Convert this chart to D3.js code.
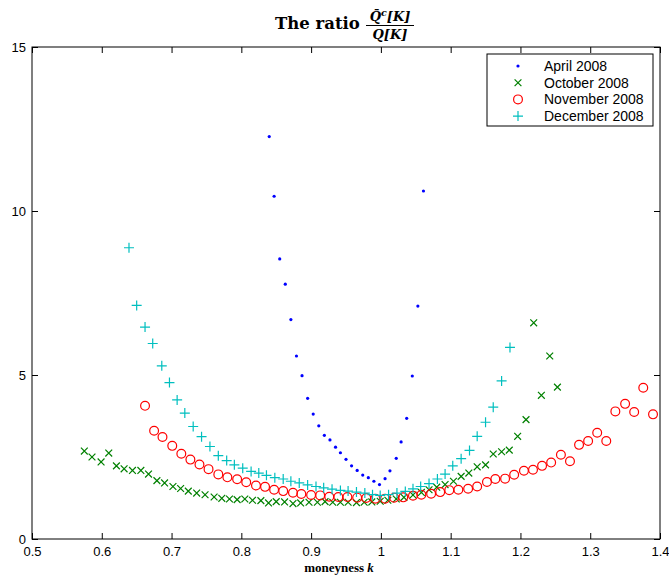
<!DOCTYPE html>
<html>
<head>
<meta charset="utf-8">
<script src="https://cdn.jsdelivr.net/npm/d3@7/dist/d3.min.js"></script>
<style>
  body { margin: 0; background: #fff; }
  text { fill: #000; }
</style>
</head>
<body>
<svg id="canvas" width="669" height="575"></svg>
<script>
// values: moneyness k and the ratio

const aprilK = [0.840, 0.847, 0.855, 0.863, 0.871, 0.879, 0.887, 0.895, 0.903, 0.911,
  0.919, 0.927, 0.935, 0.942, 0.950, 0.958, 0.966, 0.974, 0.982, 0.990,
  0.998, 1.006, 1.013, 1.022, 1.029, 1.037, 1.045, 1.053, 1.061]
const aprilV = [12.27, 10.45, 8.54, 7.77, 6.69, 5.58, 4.98, 4.29, 3.81, 3.45,
  3.16, 3.02, 2.80, 2.63, 2.43, 2.23, 2.09, 1.95, 1.87, 1.76,
  1.66, 1.84, 2.08, 2.46, 2.96, 3.68, 4.97, 7.10, 10.61]

const octK = [0.575, 0.586, 0.599, 0.610, 0.621, 0.632, 0.644, 0.656, 0.667, 0.679,
  0.690, 0.702, 0.713, 0.724, 0.736, 0.748, 0.761, 0.772, 0.783, 0.794,
  0.805, 0.816, 0.828, 0.839, 0.850, 0.862, 0.874, 0.885, 0.897, 0.909,
  0.920, 0.931, 0.942, 0.953, 0.965, 0.976, 0.987, 0.999, 1.010, 1.022,
  1.033, 1.046, 1.058, 1.069, 1.080, 1.092, 1.104, 1.115, 1.126, 1.138,
  1.150, 1.161, 1.173, 1.184, 1.196, 1.208, 1.219, 1.230, 1.242, 1.253]
const octV = [2.68, 2.50, 2.35, 2.62, 2.23, 2.14, 2.09, 2.09, 1.98, 1.78,
  1.71, 1.60, 1.54, 1.46, 1.40, 1.35, 1.28, 1.24, 1.22, 1.20,
  1.22, 1.18, 1.17, 1.10, 1.14, 1.13, 1.08, 1.10, 1.12, 1.12,
  1.14, 1.12, 1.12, 1.12, 1.11, 1.12, 1.13, 1.15, 1.18, 1.22,
  1.27, 1.34, 1.42, 1.50, 1.58, 1.66, 1.76, 1.91, 2.01, 2.20,
  2.26, 2.59, 2.66, 2.71, 3.13, 3.64, 6.59, 4.38, 5.58, 4.63]

const novK = [0.662, 0.675, 0.687, 0.701, 0.714, 0.727, 0.740, 0.753, 0.767, 0.780,
  0.794, 0.807, 0.821, 0.834, 0.847, 0.860, 0.874, 0.886, 0.900, 0.913,
  0.926, 0.939, 0.952, 0.966, 0.979, 0.992, 1.006, 1.019, 1.032, 1.046,
  1.058, 1.072, 1.085, 1.098, 1.111, 1.125, 1.138, 1.152, 1.164, 1.178,
  1.191, 1.205, 1.218, 1.231, 1.244, 1.258, 1.271, 1.284, 1.297, 1.310,
  1.323, 1.336, 1.350, 1.363, 1.376, 1.390]
const novV = [4.06, 3.30, 3.11, 2.84, 2.60, 2.42, 2.27, 2.13, 1.97, 1.88,
  1.82, 1.73, 1.63, 1.59, 1.50, 1.46, 1.41, 1.37, 1.34, 1.33,
  1.29, 1.28, 1.28, 1.26, 1.25, 1.23, 1.23, 1.26, 1.27, 1.32,
  1.35, 1.38, 1.43, 1.49, 1.50, 1.53, 1.60, 1.74, 1.83, 1.84,
  1.96, 2.08, 2.11, 2.23, 2.33, 2.57, 2.37, 2.87, 2.99, 3.24,
  2.99, 3.89, 4.12, 3.87, 4.61, 3.80]

const decK = [0.639, 0.650, 0.662, 0.673, 0.686, 0.697, 0.708, 0.719, 0.731, 0.743,
  0.755, 0.767, 0.779, 0.790, 0.802, 0.814, 0.825, 0.836, 0.848, 0.860,
  0.871, 0.883, 0.895, 0.907, 0.918, 0.930, 0.942, 0.953, 0.965, 0.977,
  0.988, 0.999, 1.011, 1.023, 1.035, 1.046, 1.057, 1.069, 1.081, 1.092,
  1.103, 1.115, 1.127, 1.138, 1.150, 1.161, 1.173, 1.185]
const decV = [8.88, 7.12, 6.46, 5.96, 5.28, 4.77, 4.24, 3.84, 3.43, 3.12,
  2.82, 2.54, 2.39, 2.26, 2.16, 2.06, 2.01, 1.94, 1.87, 1.83,
  1.76, 1.71, 1.65, 1.60, 1.56, 1.52, 1.48, 1.46, 1.43, 1.40,
  1.35, 1.33, 1.35, 1.40, 1.45, 1.53, 1.60, 1.69, 1.83, 1.98,
  2.23, 2.45, 2.70, 3.13, 3.56, 4.02, 4.82, 5.84]

const seriesNames = ["April 2008", "October 2008", "November 2008", "December 2008"]
const xTicks = [0.5, 0.6, 0.7, 0.8, 0.9, 1, 1.1, 1.2, 1.3, 1.4]
const yTicks = [0, 5, 10, 15]

// marker shapes, matlab style
const markerPath = {
  dot: "M-1.6,0a1.6,1.6 0 1,0 3.2,0a1.6,1.6 0 1,0 -3.2,0",
  x: "M-3.4,-3.4L3.4,3.4M-3.4,3.4L3.4,-3.4",
  o: "M-4.4,0a4.4,4.4 0 1,0 8.8,0a4.4,4.4 0 1,0 -8.8,0",
  plus: "M-5,0H5M0,-5V5"
}
const series = [
  {name: seriesNames[0], k: aprilK, v: aprilV, mark: "dot", color: "#0000ff", fill: true},
  {name: seriesNames[1], k: octK, v: octV, mark: "x", color: "#008000"},
  {name: seriesNames[2], k: novK, v: novV, mark: "o", color: "#ff0000"},
  {name: seriesNames[3], k: decK, v: decV, mark: "plus", color: "#00bfbf"}
]

const plotL = 32, plotR = 660, plotT = 47, plotB = 539
const x = d3.scaleLinear().domain([0.5, 1.4]).range([plotL, plotR])
const y = d3.scaleLinear().domain([0, 15]).range([plotB, plotT])

const svg = d3.select('#canvas')
const fmt = d => String(+d.toFixed(1))
const sans = "'Liberation Sans', Arial, sans-serif"
const serif = "'Liberation Serif', 'Times New Roman', serif"
const titleSerif = "'DejaVu Serif', serif"

// points
series.forEach(s => {
  svg.append("g")
    .selectAll("path")
    .data(s.k.map((k, i) => ({k, v: s.v[i]})))
    .enter()
    .append("path")
    .attr("transform", d => `translate(${x(d.k)},${y(d.v)})`)
    .attr("d", markerPath[s.mark])
    .attr("fill", s.fill ? s.color : "none")
    .attr("stroke", s.fill ? "none" : s.color)
    .attr("stroke-width", 1.2)
})

// axes, ticks inward on all four sides
const styleAxis = g => {
  g.select(".domain").remove()
  g.selectAll("line").attr("stroke", "#000")
  g.selectAll("text").style("font-family", sans).style("font-size", "13px")
}
svg.append("g").attr("transform", `translate(0,${plotB})`)
  .call(d3.axisBottom(x).tickValues(xTicks).tickFormat(fmt).tickSize(-6).tickPadding(8))
  .call(styleAxis)
svg.append("g").attr("transform", `translate(0,${plotT})`)
  .call(d3.axisTop(x).tickValues(xTicks).tickFormat("").tickSize(-6))
  .call(styleAxis)
svg.append("g").attr("transform", `translate(${plotL},0)`)
  .call(d3.axisLeft(y).tickValues(yTicks).tickSize(-6).tickPadding(6))
  .call(styleAxis)
svg.append("g").attr("transform", `translate(${plotR},0)`)
  .call(d3.axisRight(y).tickValues(yTicks).tickFormat("").tickSize(-6))
  .call(styleAxis)

svg.append("rect")
  .attr("x", plotL).attr("y", plotT)
  .attr("width", plotR - plotL).attr("height", plotB - plotT)
  .attr("fill", "none").attr("stroke", "#000").attr("stroke-width", 1)

// legend
const lg = svg.append("g")
lg.append("rect")
  .attr("x", 487).attr("y", 54).attr("width", 166).attr("height", 72)
  .attr("fill", "#fff").attr("stroke", "#000")
series.forEach((s, i) => {
  const ry = 66 + i * 16.7
  lg.append("path")
    .attr("transform", `translate(518,${ry})`)
    .attr("d", markerPath[s.mark])
    .attr("fill", s.fill ? s.color : "none")
    .attr("stroke", s.fill ? "none" : s.color)
    .attr("stroke-width", 1.2)
  lg.append("text")
    .attr("x", 544).attr("y", ry + 5)
    .style("font-family", sans).style("font-size", "14px")
    .text(s.name)
})

// title
const title = svg.append("g").style("font-family", titleSerif).style("font-weight", "bold")
title.append("text").attr("x", 275).attr("y", 29).style("font-size", "16.5px").text("The ratio")
const num = title.append("text").attr("x", 390).attr("y", 21)
  .attr("text-anchor", "middle").style("font-size", "13px").style("font-style", "italic")
num.append("tspan").text("Q\u0304")
num.append("tspan").attr("dy", -5).style("font-size", "9.5px").text("c")
num.append("tspan").attr("dy", 5).text("[K]")
title.append("line").attr("x1", 366).attr("x2", 414).attr("y1", 25.5).attr("y2", 25.5)
  .attr("stroke", "#000").attr("stroke-width", 1)
title.append("text").attr("x", 390).attr("y", 38.5)
  .attr("text-anchor", "middle").style("font-size", "13px").style("font-style", "italic")
  .text("Q[K]")

// x label
const xl = svg.append("text").attr("x", 339).attr("y", 572)
  .attr("text-anchor", "middle")
  .style("font-family", serif).style("font-size", "13px").style("font-weight", "bold")
xl.append("tspan").text("moneyness ")
xl.append("tspan").style("font-style", "italic").text("k")
</script>
</body>
</html>
